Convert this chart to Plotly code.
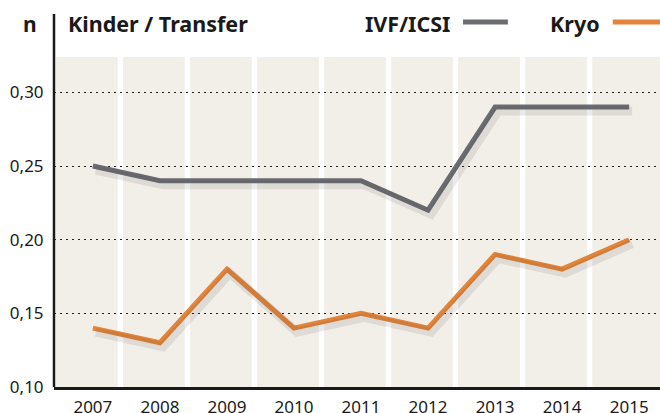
import plotly.graph_objects as go

years = [2007, 2008, 2009, 2010, 2011, 2012, 2013, 2014, 2015]
ivf_icsi = [0.25, 0.24, 0.24, 0.24, 0.24, 0.22, 0.29, 0.29, 0.29]
kryo = [0.14, 0.13, 0.18, 0.14, 0.15, 0.14, 0.19, 0.18, 0.20]
y_ticks = [0.10, 0.15, 0.20, 0.25, 0.30]
y_tick_labels = ["0,10", "0,15", "0,20", "0,25", "0,30"]

GRAY = "#6b6c70"
ORANGE = "#e2843a"
BAND = "#f2efe9"
INK = "#1a1a1a"
FONT = "Noto Sans"

x_range = [years[0] - 0.58, years[-1] + 0.46]
y_range = [0.10, 0.324]
# shadow axes: same scale, shifted a few pixels down/right
plot_w, plot_h = 606, 330
dx = 3 * (x_range[1] - x_range[0]) / plot_w
dy = 4 * (y_range[1] - y_range[0]) / plot_h

fig = go.Figure()

for vals in (ivf_icsi, kryo):
    fig.add_trace(go.Scatter(
        x=years, y=vals, mode="lines", xaxis="x2", yaxis="y2",
        line=dict(color="rgba(60,60,70,0.11)", width=9),
        hoverinfo="skip", showlegend=False))

fig.add_trace(go.Scatter(x=years, y=ivf_icsi, mode="lines", name="IVF/ICSI",
                         line=dict(color=GRAY, width=5), showlegend=False))
fig.add_trace(go.Scatter(x=years, y=kryo, mode="lines", name="Kryo",
                         line=dict(color=ORANGE, width=5), showlegend=False))

shapes = []
for i, yr in enumerate(years):
    x0 = yr - 0.55
    x1 = yr + 0.37 if i < len(years) - 1 else x_range[1]
    shapes.append(dict(type="rect", xref="x", yref="paper", x0=x0, x1=x1,
                       y0=0, y1=1, fillcolor=BAND, line=dict(width=0),
                       layer="below"))
# vertical axis rule extending up between "n" and title
shapes.append(dict(type="line", xref="paper", yref="paper", x0=0, x1=0,
                   y0=0, y1=1.13, line=dict(color=INK, width=2.5)))
# legend samples
shapes.append(dict(type="line", xref="paper", yref="paper", x0=0.675, x1=0.749,
                   y0=1.106, y1=1.106, line=dict(color=GRAY, width=5)))
shapes.append(dict(type="line", xref="paper", yref="paper", x0=0.922, x1=1.0,
                   y0=1.106, y1=1.106, line=dict(color=ORANGE, width=5)))

annotations = [
    dict(text="<b>n</b>", xref="paper", yref="paper", x=-0.04, y=1.1,
         xanchor="center", yanchor="middle", showarrow=False,
         font=dict(family=FONT, size=21, color=INK)),
    dict(text="<b>Kinder / Transfer</b>", xref="paper", yref="paper", x=0.019,
         y=1.1, xanchor="left", yanchor="middle", showarrow=False,
         font=dict(family=FONT, size=21.5, color=INK)),
    dict(text="<b>IVF/ICSI</b>", xref="paper", yref="paper", x=0.657, y=1.1,
         xanchor="right", yanchor="middle", showarrow=False,
         font=dict(family=FONT, size=21.5, color=INK)),
    dict(text="<b>Kryo</b>", xref="paper", yref="paper", x=0.905, y=1.1,
         xanchor="right", yanchor="middle", showarrow=False,
         font=dict(family=FONT, size=21.5, color=INK)),
]

fig.update_layout(
    width=660, height=413,
    margin=dict(l=54, r=0, t=57, b=26),
    paper_bgcolor="white", plot_bgcolor="white",
    font=dict(family=FONT, size=17, color=INK),
    shapes=shapes, annotations=annotations,
    xaxis=dict(range=x_range, tickmode="array", tickvals=years,
               ticktext=[str(y) for y in years], showgrid=False,
               zeroline=False, showline=True, linecolor=INK, linewidth=2.5,
               ticks="outside", ticklen=3, tickcolor="rgba(0,0,0,0)",
               tickfont=dict(size=17, color=INK), fixedrange=True,
               automargin=False),
    yaxis=dict(range=y_range, tickmode="array", tickvals=y_ticks,
               ticktext=y_tick_labels, showgrid=True, gridcolor="#222222",
               gridwidth=1.3, griddash="2px,4px", zeroline=False,
               showline=False, ticks="outside", ticklen=6,
               tickcolor="rgba(0,0,0,0)", tickfont=dict(size=17, color=INK),
               fixedrange=True, automargin=False),
    xaxis2=dict(range=[x_range[0] - dx, x_range[1] - dx], overlaying="x",
                visible=False, fixedrange=True, automargin=False),
    yaxis2=dict(range=[y_range[0] + dy, y_range[1] + dy], overlaying="y",
                visible=False, fixedrange=True, automargin=False),
)

fig.write_html("out.html", config={"displayModeBar": False},
               post_script="document.body.style.margin='0px';")
